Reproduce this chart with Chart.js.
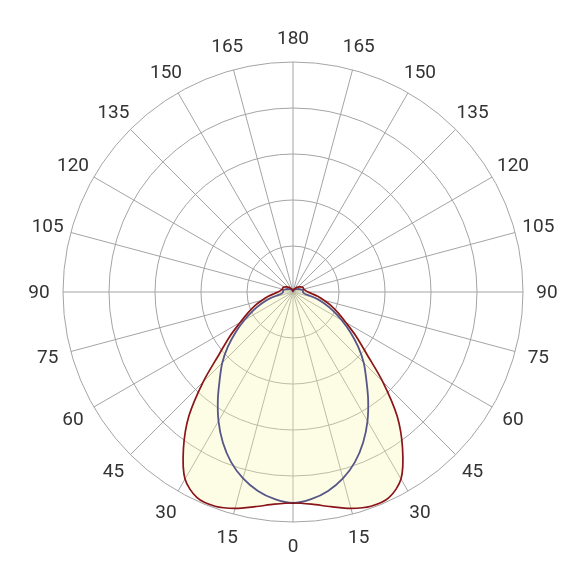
<!DOCTYPE html>
<html lang="en">
<head>
<meta charset="UTF-8" />
<title>Polar light distribution</title>
<style>
  html, body { margin: 0; padding: 0; background: #fff; }
  #wrap { width: 586px; height: 586px; }
</style>
</head>
<body>
<div id="wrap"><canvas id="polar" width="586" height="586"></canvas></div>
<script src="https://cdn.jsdelivr.net/npm/chart.js@4.4.1/dist/chart.umd.min.js"></script>
<script>
// gamma 0..180 in 5 degree steps (0 = straight down)
const gammaStep = 5;
const labelAngles = [0, 15, 30, 45, 60, 75, 90, 105, 120, 135, 150, 165, 180];

// C0-C180 plane (red)
const c0Values = [211, 213, 218, 224, 228, 227, 216, 191, 162, 127, 96, 77, 61,
  50, 41, 32, 25, 19, 15, 13, 12, 11, 11, 11, 10, 9, 8, 7, 6, 5, 4, 3.5, 3, 2.5, 2, 1.5, 1];
// C90-C270 plane (blue)
const c90Values = [211, 208, 202, 193, 181, 166, 149, 131, 114, 100, 85, 70, 56,
  44, 33, 23, 13, 10.5, 10, 10, 10, 9, 8, 7, 6, 5, 4.5, 4, 3.5, 3, 2.5, 2, 1.5, 1.2, 1, 0.8, 0.5];

const ringStep = 46;
const ringMax = 230;

// walk clockwise from the top: 180 ... 0 ... 180
const count = 360 / gammaStep;
const labels = [];
const redData = [];
const blueData = [];
for (let i = 0; i < count; i++) {
  const g = Math.abs(180 - i * gammaStep);
  labels.push(labelAngles.includes(g) ? String(g) : "");
  redData.push(c0Values[g / gammaStep]);
  blueData.push(c90Values[g / gammaStep]);
}

// angle labels centred on a circle just outside the grid
const angleLabels = {
  id: "angleLabels",
  afterDraw(chart) {
    const scale = chart.scales.r;
    const ctx = chart.ctx;
    ctx.save();
    ctx.font = "19px Roboto";
    ctx.fillStyle = "#333";
    ctx.textAlign = "center";
    ctx.textBaseline = "middle";
    chart.data.labels.forEach((lab, i) => {
      if (!lab) return;
      const p = scale.getPointPosition(i, scale.drawingArea + 24);
      ctx.fillText(lab, p.x, p.y + 1);
    });
    ctx.restore();
  },
};

new Chart(document.getElementById("polar"), {
  type: "radar",
  data: {
    labels: labels,
    datasets: [
      {
        label: "C0-C180",
        data: redData,
        borderColor: "#8a1418",
        borderWidth: 1.7,
        backgroundColor: "rgba(250, 245, 170, 0.3)",
        fill: true,
        pointRadius: 0,
        tension: 0.3,
      },
      {
        label: "C90-C270",
        data: blueData,
        borderColor: "#12127a",
        borderWidth: 1.8,
        fill: false,
        pointRadius: 0,
        tension: 0.3,
      },
    ],
  },
  options: {
    responsive: false,
    animation: false,
    layout: { padding: { left: 63, right: 63, top: 62, bottom: 64 } },
    plugins: { legend: { display: false }, tooltip: { enabled: false } },
    scales: {
      r: {
        min: 0,
        max: ringMax,
        ticks: { display: false, stepSize: ringStep },
        grid: { circular: true, color: "#a4a4a4", lineWidth: 1 },
        angleLines: {
          color: (ctx) => (ctx.label !== "" ? "#a4a4a4" : "rgba(0,0,0,0)"),
          lineWidth: 1,
        },
        pointLabels: { display: false },
      },
    },
  },
  plugins: [angleLabels],
});
</script>
</body>
</html>
